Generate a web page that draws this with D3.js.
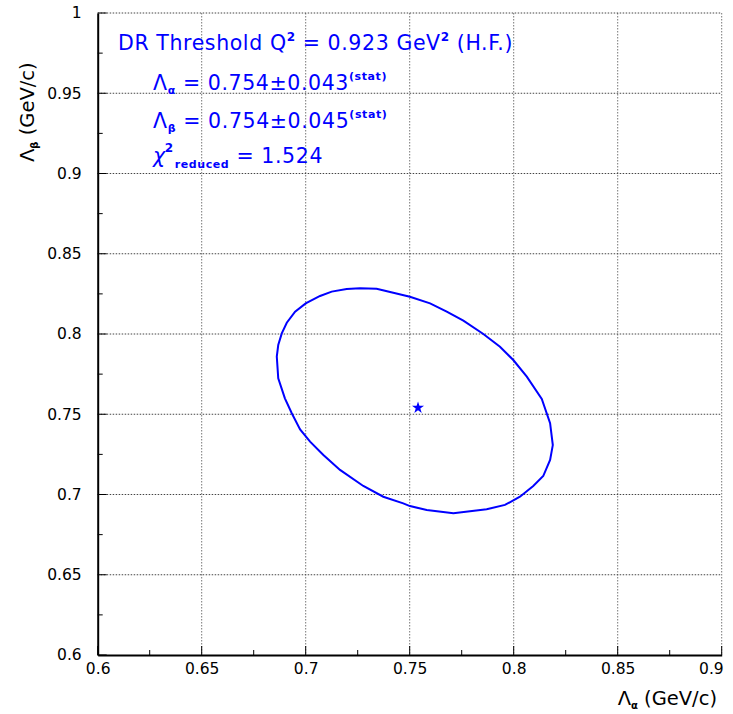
<!DOCTYPE html>
<html><head><meta charset="utf-8">
<script src="https://cdn.jsdelivr.net/npm/d3@7"></script>
<style>
html,body{margin:0;padding:0;background:#fff;}
text{font-family:"DejaVu Sans",Verdana,sans-serif;}
</style></head>
<body>
<svg id="c" width="733" height="714"></svg>
<script>
// ---- data ----
const xDomain = [0.6, 0.9];
const yDomain = [0.6, 1.0];
const xTicks = [0.6, 0.65, 0.7, 0.75, 0.8, 0.85, 0.9];
const xTickLabels = ["0.6", "0.65", "0.7", "0.75", "0.8", "0.85", "0.9"];
const yTicks = [0.6, 0.65, 0.7, 0.75, 0.8, 0.85, 0.9, 0.95, 1.0];
const yTickLabels = ["0.6", "0.65", "0.7", "0.75", "0.8", "0.85", "0.9", "0.95", "1"];
const bestFit = [0.754, 0.754];
// contour (Lambda_alpha, Lambda_beta)
const contourX = [0.6900,0.6868,0.6861,0.6868,0.6885,0.6909,0.6949,0.7000,0.7069,0.7125,0.7197,0.7261,0.7341,0.7421,0.7501,0.7598,0.7678,0.7758,0.7854,0.7934,0.7998,0.8063,0.8135,0.8175,0.8188,0.8175,0.8142,0.8094,0.8030,0.7958,0.7870,0.7710,0.7582,0.7501,0.7469,0.7373,0.7277,0.7165,0.7085,0.7021,0.6973,0.6933];
const contourY = [0.7599,0.7724,0.7859,0.7931,0.8004,0.8070,0.8139,0.8191,0.8237,0.8264,0.8280,0.8285,0.8282,0.8257,0.8232,0.8191,0.8139,0.8083,0.8000,0.7921,0.7838,0.7734,0.7595,0.7444,0.7308,0.7215,0.7115,0.7053,0.6986,0.6935,0.6908,0.6883,0.6903,0.6928,0.6945,0.6986,0.7053,0.7153,0.7246,0.7329,0.7406,0.7506];

const svg = d3.select("#c");
const L = 97.7, R = 721.7, T = 13, B = 655;
const x = d3.scaleLinear().domain(xDomain).range([L, R]);
const y = d3.scaleLinear().domain(yDomain).range([B, T]);
const blue = "#0000ff";

// grid
const g = svg.append("g");
g.selectAll("line.gx").data(xTicks.slice(1)).join("line")
  .attr("x1", d => x(d)).attr("x2", d => x(d)).attr("y1", T).attr("y2", B)
  .attr("stroke", "#777").attr("stroke-width", 1).attr("stroke-dasharray", "1.5,1.5");
g.selectAll("line.gy").data(yTicks.slice(1)).join("line")
  .attr("y1", d => y(d)).attr("y2", d => y(d)).attr("x1", L).attr("x2", R)
  .attr("stroke", "#444").attr("stroke-width", 1).attr("stroke-dasharray", "1.5,1.5");

// axes
const xAxis = d3.axisBottom(x).tickValues(xTicks).tickSize(0).tickFormat((d,i) => xTickLabels[i]).tickPadding(8);
const yAxis = d3.axisLeft(y).tickValues(yTicks).tickSize(0).tickFormat((d,i) => yTickLabels[i]).tickPadding(16);
const gx = svg.append("g").attr("transform", `translate(0,${B})`).call(xAxis);
const gy = svg.append("g").attr("transform", `translate(${L},0)`).call(yAxis);
[gx, gy].forEach(a => {
  a.select(".domain").attr("stroke", "#000").attr("stroke-width", 2);
  a.selectAll("text").attr("font-size", 15.5).attr("fill", "#000")
    .attr("font-family", "'DejaVu Sans',sans-serif");
});
gx.selectAll("text").attr("dy", "0.71em");
// last x label kept inside the window, as in the reference
gx.selectAll(".tick").filter(d => d === xDomain[1]).select("text")
  .attr("text-anchor", "end").attr("x", 1.5);

// ticks (inward)
const xMinor = d3.range(0, 13).map(i => 0.6 + i * 0.025);
const yMinor = d3.range(0, 17).map(i => 0.6 + i * 0.025);
svg.append("g").selectAll("line").data(xMinor).join("line")
  .attr("x1", d => x(d)).attr("x2", d => x(d)).attr("y1", B)
  .attr("y2", (d,i) => B - (i % 2 === 0 ? 9 : 5)).attr("stroke", "#000").attr("stroke-width", 1);
svg.append("g").selectAll("line").data(yMinor).join("line")
  .attr("y1", d => y(d)).attr("y2", d => y(d)).attr("x1", L)
  .attr("x2", (d,i) => L + (i % 2 === 0 ? 9 : 5)).attr("stroke", "#000").attr("stroke-width", 1);

// contour
const pts = contourX.map((v, i) => [x(v), y(contourY[i])]);
svg.append("path").attr("d", d3.line().curve(d3.curveLinearClosed)(pts))
  .attr("fill", "none").attr("stroke", blue).attr("stroke-width", 2);

// best fit star
svg.append("path").attr("d", d3.symbol().type(d3.symbolStar).size(45)())
  .attr("transform", `translate(${x(bestFit[0])},${y(bestFit[1])})`).attr("fill", blue);

// texts
const big = 20.5, small = 11;
function line(xp, yp) { return svg.append("text").attr("x", xp).attr("y", yp).attr("fill", blue).attr("font-size", big).attr("letter-spacing", 0.6); }
let t = line(118, 50);
t.append("tspan").text("DR Threshold Q");
t.append("tspan").attr("font-size", 12).attr("font-weight", "bold").attr("dy", -9).text("2");
t.append("tspan").attr("dy", 9).text(" = 0.923 GeV");
t.append("tspan").attr("font-size", 12).attr("font-weight", "bold").attr("dy", -9).text("2");
t.append("tspan").attr("dy", 9).text(" (H.F.)");

function lamLine(yp, sub, val) {
  const tt = line(153, yp);
  tt.append("tspan").text("Λ");
  tt.append("tspan").attr("font-size", small).attr("font-weight", "bold").attr("dy", 4).text(sub);
  tt.append("tspan").attr("dy", -4).text(" = " + val);
  tt.append("tspan").attr("font-size", small).attr("font-weight", "bold").attr("dy", -10).text("(stat)");
}
lamLine(90, "α", "0.754±0.043");
lamLine(128, "β", "0.754±0.045");
t = line(153, 163);
t.append("tspan").attr("font-style", "italic").text("χ");
t.append("tspan").attr("font-size", 12).attr("font-weight", "bold").attr("dy", -11).attr("dx", -1).text("2");
t.append("tspan").attr("font-size", small).attr("font-weight", "bold").attr("dy", 16).attr("dx", 1).text("reduced");
t.append("tspan").attr("dy", -5).text(" = 1.524");

// axis titles
t = svg.append("text").attr("x", 717).attr("y", 705).attr("text-anchor", "end").attr("font-size", 19.5).attr("fill", "#000");
t.append("tspan").text("Λ");
t.append("tspan").attr("font-size", 10).attr("font-weight", "bold").attr("dy", 4).text("α");
t.append("tspan").attr("dy", -4).text(" (GeV/c)");

t = svg.append("text").attr("transform", "translate(34,162) rotate(-90)").attr("text-anchor", "start").attr("font-size", 19.5).attr("fill", "#000");
t.append("tspan").text("Λ");
t.append("tspan").attr("font-size", 10).attr("font-weight", "bold").attr("dy", 4).text("β");
t.append("tspan").attr("dy", -4).text(" (GeV/c)");
</script>
</body></html>
